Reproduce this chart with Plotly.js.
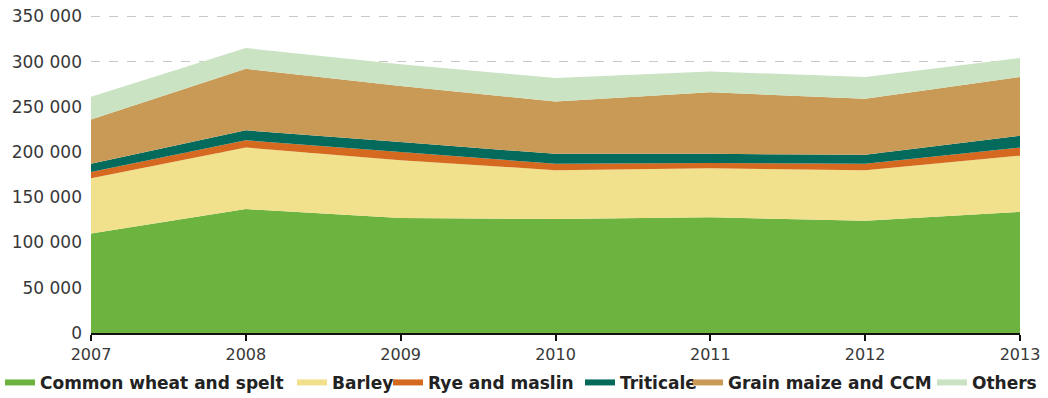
<!DOCTYPE html>
<html>
<head>
<meta charset="utf-8">
<script src="https://cdn.plot.ly/plotly-3.0.1.min.js"></script>
<style>
  html, body { margin: 0; padding: 0; background: #ffffff; }
  #chart { width: 1048px; height: 398px; }
</style>
</head>
<body>
<div id="chart"></div>
<script>
// Harvested production by crop, stacked
const years = [2007, 2008, 2009, 2010, 2011, 2012, 2013];
const commonWheat = [110000, 137000, 127000, 126000, 128000, 124000, 134000];
const barley      = [61000, 68000, 64000, 54000, 54000, 56000, 62000];
const ryeMaslin   = [7000, 8000, 9000, 7000, 6000, 7000, 9000];
const triticale   = [9000, 11000, 11000, 11000, 10000, 10000, 13000];
const grainMaize  = [49000, 68000, 62000, 58000, 68000, 62000, 65000];
const others      = [25000, 23000, 24000, 26000, 23000, 24000, 21000];

const seriesNames = ["Common wheat and spelt", "Barley", "Rye and maslin", "Triticale", "Grain maize and CCM", "Others"];
const seriesValues = [commonWheat, barley, ryeMaslin, triticale, grainMaize, others];
const seriesColors = ["#6cb33f", "#f1e08c", "#d4691f", "#046b5c", "#c99a56", "#c9e3c3"];
const yTicks = [0, 50000, 100000, 150000, 200000, 250000, 300000, 350000];

// One legend box per crop, laid out along a single row under the axis
const legendIds = ["legend", "legend2", "legend3", "legend4", "legend5", "legend6"];
const legendLeft = [0, 292, 388, 580, 688, 932];

const traces = seriesNames.map((name, i) => ({
  type: "scatter",
  mode: "none",
  name: name,
  x: years,
  y: seriesValues[i],
  stackgroup: "crops",
  fillcolor: seriesColors[i],
  line: { width: 0 },
  legend: legendIds[i],
  hoverinfo: "x+y+name"
}));

const layout = {
  width: 1048,
  height: 398,
  margin: { l: 91, r: 28, t: 15, b: 65, autoexpand: false },
  paper_bgcolor: "#ffffff",
  plot_bgcolor: "#ffffff",
  separators: ". ",
  showlegend: true,
  xaxis: {
    type: "linear",
    range: [2007, 2013],
    tickvals: years,
    ticktext: years.map(String),
    showgrid: false,
    zeroline: false,
    showline: true,
    linecolor: "#111",
    linewidth: 2,
    ticks: "outside",
    ticklen: 6,
    tickwidth: 2,
    tickcolor: "#111",
    tickfont: { family: "DejaVu Sans, sans-serif", size: 16, color: "#383838" }
  },
  yaxis: {
    range: [0, 351500],
    tickvals: yTicks,
    tickformat: ",d",
    showgrid: true,
    gridcolor: "#c8c8c8",
    griddash: "dash",
    gridwidth: 1,
    zeroline: false,
    showline: false,
    ticks: "",
    ticklabelstandoff: 8,
    tickfont: { family: "DejaVu Sans, sans-serif", size: 17, color: "#383838" }
  }
};

legendIds.forEach((id, i) => {
  layout[id] = {
    orientation: "h",
    xref: "container",
    yref: "container",
    x: legendLeft[i] / 1048,
    xanchor: "left",
    y: 0.038,
    yanchor: "middle",
    font: { family: "DejaVu Sans, sans-serif", size: 17, color: "#222", weight: 700 },
    itemwidth: 30,
    bgcolor: "rgba(0,0,0,0)"
  };
});

Plotly.newPlot("chart", traces, layout, { displayModeBar: false, staticPlot: true });
</script>
</body>
</html>
